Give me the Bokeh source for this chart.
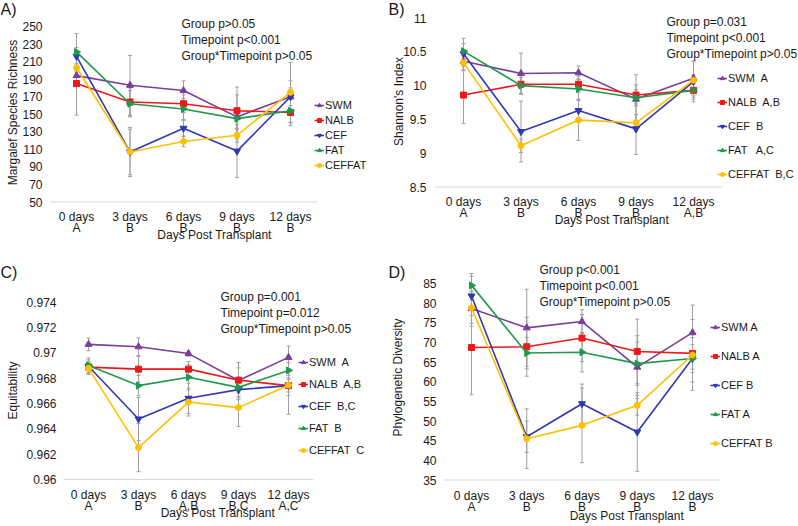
import math
from bokeh.plotting import figure
from bokeh.models import (ColumnDataSource, Range1d, Legend, LegendItem, Label,
                          FixedTicker, NumeralTickFormatter)
from bokeh.layouts import row, column
from bokeh.embed import file_html
from bokeh.resources import INLINE

# ---------------- data ----------------
days = ["0 days", "3 days", "6 days", "9 days", "12 days"]
groups = ["SWM", "NALB", "CEF", "FAT", "CEFFAT"]

# A) Margalef species richness
A_SWM = [194, 183, 177, 147, 170]
A_NALB = [185, 164, 162, 154, 152]
A_CEF = [216, 107, 134, 108, 170]
A_FAT = [221, 162, 156, 145, 154]
A_CEFFAT = [203, 107, 119, 126, 175]
A_SWM_err = [10, 34, 11, 25, 18]
A_NALB_err = [36, 16, 10, 27, 15]
A_CEF_err = [10, 26, 9, 30, 10]
A_FAT_err = [21, 15, 12, 12, 14]
A_CEFFAT_err = [5, 28, 6, 8, 34]
A_letters = ["A", "B", "B", "B", "B"]
A_legend = ["SWM", "NALB", "CEF", "FAT", "CEFFAT"]
A_stats = "Group p>0.05\nTimepoint p<0.001\nGroup*Timepoint p>0.05"
A_yticks = [50, 70, 90, 110, 130, 150, 170, 190, 210, 230, 250]

# B) Shannon's index
B_SWM = [10.36, 10.18, 10.19, 9.80, 10.11]
B_NALB = [9.86, 10.02, 10.02, 9.86, 9.93]
B_CEF = [10.47, 9.32, 9.63, 9.36, 10.06]
B_FAT = [10.51, 10.00, 9.95, 9.82, 9.93]
B_CEFFAT = [10.34, 9.11, 9.49, 9.45, 10.08]
B_SWM_err = [0.12, 0.30, 0.10, 0.36, 0.25]
B_NALB_err = [0.42, 0.15, 0.12, 0.15, 0.10]
B_CEF_err = [0.15, 0.45, 0.15, 0.38, 0.10]
B_FAT_err = [0.19, 0.12, 0.15, 0.12, 0.17]
B_CEFFAT_err = [0.12, 0.10, 0.30, 0.12, 0.28]
B_letters = ["A", "B", "B", "B", "A,B"]
B_legend = ["SWM  A", "NALB  A,B", "CEF  B", "FAT   A,C", "CEFFAT  B,C"]
B_stats = "Group p=0.031\nTimepoint p<0.001\nGroup*Timepoint p>0.05"
B_yticks = [8.5, 9, 9.5, 10, 10.5, 11]

# C) Equitability
C_SWM = [0.97068, 0.97049, 0.96995, 0.96782, 0.96965]
C_NALB = [0.96888, 0.96872, 0.96872, 0.96785, 0.96742]
C_CEF = [0.96895, 0.96478, 0.96642, 0.96710, 0.96742]
C_FAT = [0.96900, 0.96742, 0.96808, 0.96728, 0.96862]
C_CEFFAT = [0.96880, 0.96252, 0.96612, 0.96568, 0.96745]
C_SWM_err = [0.0005, 0.0007, 0.0002, 0.0010, 0.0009]
C_NALB_err = [0.0004, 0.0010, 0.0006, 0.0014, 0.0005]
C_CEF_err = [0.0005, 0.0017, 0.0012, 0.0008, 0.0008]
C_FAT_err = [0.0006, 0.0008, 0.0010, 0.0007, 0.0006]
C_CEFFAT_err = [0.0005, 0.0019, 0.0011, 0.0015, 0.0023]
C_letters = ["A", "B", "A,B", "B,C", "A,C"]
C_legend = ["SWM  A", "NALB  A,B", "CEF  B,C", "FAT  B", "CEFFAT  C"]
C_stats = "Group p=0.001\nTimepoint p=0.012\nGroup*Timepoint p>0.05"
C_yticks = [0.96, 0.962, 0.964, 0.966, 0.968, 0.97, 0.972, 0.974]

# D) Phylogenetic diversity
D_SWM = [78.6, 73.7, 75.3, 63.7, 72.5]
D_NALB = [68.7, 68.9, 71.1, 67.7, 67.2]
D_CEF = [81.8, 46.0, 54.4, 47.2, 65.9]
D_FAT = [84.5, 67.3, 67.5, 64.6, 65.9]
D_CEFFAT = [78.8, 45.5, 48.9, 54.0, 66.8]
D_SWM_err = [4.5, 9.8, 3.0, 8.0, 7.0]
D_NALB_err = [12.0, 7.5, 6.0, 8.2, 4.0]
D_CEF_err = [5.0, 4.0, 5.0, 10.0, 6.0]
D_FAT_err = [3.0, 4.0, 5.0, 5.5, 3.5]
D_CEFFAT_err = [4.0, 7.6, 9.5, 2.5, 9.0]
D_letters = ["A", "B", "B", "B", "B"]
D_legend = ["SWM A", "NALB A", "CEF B", "FAT A", "CEFFAT B"]
D_stats = "Group p<0.001\nTimepoint p<0.001\nGroup*Timepoint p>0.05"
D_yticks = [35, 40, 45, 50, 55, 60, 65, 70, 75, 80, 85]

# ---------------- style ----------------
FONT = "Liberation Sans"
TXT = "#1a1a1a"
ERR = "#a0a0a0"
BASE = "#d9d9d9"
NBSP = "\u00a0"
colors = {"SWM": "#7a3d9c", "NALB": "#f01818", "CEF": "#3137b5",
          "FAT": "#1f9a4c", "CEFFAT": "#ffc000"}
markers = {"SWM": ("triangle", 0.0, 7), "NALB": ("square", 0.0, 6),
           "CEF": ("inverted_triangle", 0.0, 7), "FAT": ("triangle", -math.pi / 2, 7),
           "CEFFAT": ("circle", 0.0, 6)}

# layout geometry (page pixels): frame box, value->pixel anchors, text spots
GEO = {
    "A": dict(w=388, frame=(0, 0, 388, 204), ymap=(250, 26, 50, 201.5), xmap=(76, 53.5),
              ytick_right=42, xstand=5, xals=-10, shift=12, tag=(0, 0), stats=(181, 16),
              ytitle=(12.7, 112), legend=(314, 170.5), lspace=3),
    "B": dict(w=410, frame=(388, 0, 798, 204), ymap=(11, 17.5, 8.5, 186.5), xmap=(463, 57.5),
              ytick_right=426.5, xstand=-10, xals=-10, shift=11, tag=(388, 0), stats=(666, 14),
              ytitle=(398, 101), legend=(717, 180), lspace=12),
    "C": dict(w=388, frame=(0, 263, 388, 483), ymap=(0.974, 302, 0.96, 480), xmap=(88, 50),
              ytick_right=55.5, xstand=5, xals=-10, shift=14, tag=(0, 264), stats=(220, 290),
              ytitle=(12.7, 391), legend=(298, 456.5), lspace=10),
    "D": dict(w=410, frame=(388, 263, 798, 483), ymap=(85, 283, 35, 480.5), xmap=(471, 55.25),
              ytick_right=436, xstand=6, xals=-8, shift=20, tag=(388, 264), stats=(539, 263),
              ytitle=(397, 378), legend=(710, 449.5), lspace=17),
}
ROW_TOP = {"A": 0, "B": 0, "C": 263, "D": 263}
FIG_H = 263


def make_panel(key, tag, vals, errs, letters, legend_labels, stats, yticks, yfmt, ytitle):
    g = GEO[key]
    fl, ft, fr, fb = g["frame"]
    top_v, top_px, bot_v, bot_px = g["ymap"]
    k = (bot_px - top_px) / (top_v - bot_v)
    y0 = bot_v - (fb - bot_px) / k
    y1 = top_v + (top_px - ft) / k
    cx0, dx = g["xmap"]
    x0 = (fl - cx0) / dx
    x1 = (fr - cx0) / dx
    row_top = ROW_TOP[key]
    bottom_border = row_top + FIG_H - fb

    p = figure(x_range=Range1d(x0, x1), y_range=Range1d(y0, y1),
               width=g["w"], height=FIG_H, output_backend="svg", toolbar_location=None,
               min_border_left=0, min_border_top=0, min_border_right=0,
               min_border_bottom=bottom_border)
    p.outline_line_color = None
    p.xgrid.grid_line_color = None
    p.ygrid.grid_line_color = None
    p.background_fill_color = "white"
    p.border_fill_color = "white"

    xs = list(range(len(days)))

    xa = p.xaxis[0]
    xa.ticker = FixedTicker(ticks=xs)
    xa.major_label_overrides = {i: f"{d}\n{l}" for i, d, l in zip(xs, days, letters)}
    xa.axis_line_color = None
    xa.major_tick_line_color = None
    xa.minor_tick_line_color = None
    xa.major_tick_out = 0
    xa.major_tick_in = 0
    xa.minor_tick_out = 0
    xa.major_label_text_font = FONT
    xa.major_label_text_font_size = "12px"
    xa.major_label_text_color = TXT
    xa.major_label_text_line_height = 0.85
    xa.major_label_standoff = g["xstand"]
    xa.axis_label = NBSP * g["shift"] + "Days Post Transplant"
    xa.axis_label_text_font = FONT
    xa.axis_label_text_font_size = "12px"
    xa.axis_label_text_font_style = "normal"
    xa.axis_label_text_color = TXT
    xa.axis_label_standoff = g["xals"]

    ya = p.yaxis[0]
    ya.axis_line_color = None
    ya.major_tick_line_color = None
    ya.minor_tick_line_color = None
    ya.major_tick_out = 0
    ya.major_tick_in = 0
    ya.minor_tick_out = 0
    ya.ticker = FixedTicker(ticks=yticks)
    ya.formatter = NumeralTickFormatter(format=yfmt)
    ya.major_label_text_font = FONT
    ya.major_label_text_font_size = "12px"
    ya.major_label_text_color = TXT
    ya.major_label_standoff = -int(round(g["ytick_right"] - fl))

    # baseline of the plot area (the category axis line)
    p.segment(x0=[xs[0] - 0.5], x1=[xs[-1] + 0.5], y0=[yticks[0]], y1=[yticks[0]],
              line_color=BASE, line_width=1)

    # error bars
    for grp in groups:
        v = vals[grp]
        e = errs[grp]
        src = ColumnDataSource(dict(x=xs, lo=[a - b for a, b in zip(v, e)],
                                    hi=[a + b for a, b in zip(v, e)]))
        p.segment(x0="x", x1="x", y0="lo", y1="hi", source=src,
                  line_color=ERR, line_width=1)
        p.scatter(x="x", y="lo", source=src, marker="dash", size=4, line_color=ERR,
                  line_width=1)
        p.scatter(x="x", y="hi", source=src, marker="dash", size=4, line_color=ERR,
                  line_width=1)

    items = []
    for grp, lab in zip(groups, legend_labels):
        src = ColumnDataSource(dict(x=xs, y=vals[grp]))
        lr = p.line(x="x", y="y", source=src, line_color=colors[grp], line_width=1.6)
        mk, ang, sz = markers[grp]
        sr = p.scatter(x="x", y="y", source=src, marker=mk, angle=ang, size=sz,
                       fill_color=colors[grp], line_color=colors[grp])
        items.append(LegendItem(label=lab, renderers=[lr, sr]))

    lx, lb = g["legend"]
    leg = Legend(items=items, location=(lx - fl, fb - lb), border_line_color=None,
                 background_fill_alpha=0, padding=0, margin=0, spacing=g["lspace"],
                 glyph_width=10, glyph_height=12, label_height=12, label_standoff=1,
                 label_text_font=FONT, label_text_font_size="11px",
                 label_text_color=TXT)
    p.add_layout(leg)

    def lab(text, xy, align="left", base="top", size="12px", angle=0.0):
        p.add_layout(Label(x=xy[0] - fl, y=fb - xy[1], x_units="screen", y_units="screen",
                           text=text, text_font=FONT, text_font_size=size,
                           text_color=TXT, text_align=align, text_baseline=base,
                           angle=angle, text_line_height=1.15))

    lab(tag, g["tag"], size="16px")
    lab(stats, g["stats"])
    lab(ytitle, g["ytitle"], align="center", base="middle", angle=math.pi / 2)
    return p


def pack(prefix):
    gl = globals()
    vals = {k: gl[f"{prefix}_{k}"] for k in groups}
    errs = {k: gl[f"{prefix}_{k}_err"] for k in groups}
    return vals, errs


vA, eA = pack("A")
vB, eB = pack("B")
vC, eC = pack("C")
vD, eD = pack("D")

pA = make_panel("A", "A)", vA, eA, A_letters, A_legend, A_stats, A_yticks, "0",
                "Margalef Species Richness")
pB = make_panel("B", "B)", vB, eB, B_letters, B_legend, B_stats, B_yticks, "0.[0]",
                "Shannon's Index")
pC = make_panel("C", "C)", vC, eC, C_letters, C_legend, C_stats, C_yticks, "0.[000]",
                "Equitability")
pD = make_panel("D", "D)", vD, eD, D_letters, D_legend, D_stats, D_yticks, "0",
                "Phylogenetic Diversity")

layout = column(row(pA, pB, spacing=0), row(pC, pD, spacing=0), spacing=0)
open("out.html", "w").write(file_html(layout, INLINE))
